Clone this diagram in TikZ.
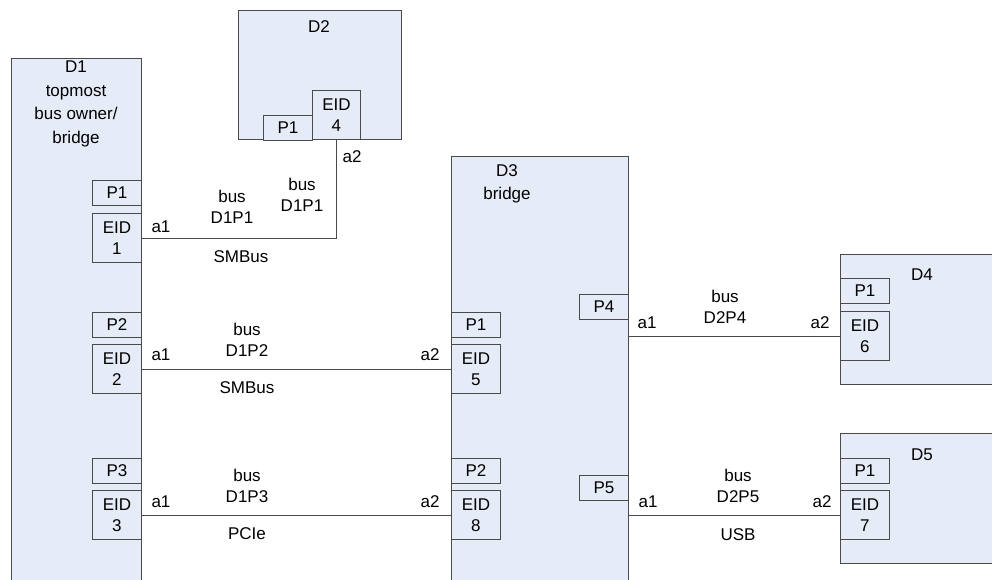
\documentclass[tikz,border=0pt]{standalone}
\usepackage{fontspec}
\setmainfont{Liberation Sans}
\definecolor{devfill}{HTML}{E6ECF7}
\definecolor{linec}{HTML}{4A4A4A}
\begin{document}
\begin{tikzpicture}[x=1pt,y=-1pt,
  font=\fontsize{17}{21}\selectfont,
  dev/.style={draw=linec, fill=devfill, line width=0.9pt, anchor=north west, inner sep=0pt},
  port/.style={draw=linec, fill=devfill, line width=0.9pt, anchor=north west, inner sep=0pt, minimum width=49pt, minimum height=25pt},
  eid/.style={draw=linec, fill=devfill, line width=0.9pt, anchor=north west, inner sep=0pt, minimum width=49pt, minimum height=49pt, align=center},
  wire/.style={draw=linec, line width=0.9pt},
  lbl/.style={inner sep=0pt, align=center}
]
\useasboundingbox (0,0) rectangle (992,580);
% devices
\node[dev, minimum width=130pt, minimum height=530pt] (d1) at (11,58) {};
\node[dev, minimum width=163pt, minimum height=129pt] (d2) at (238,10) {};
\node[dev, minimum width=177pt, minimum height=430pt] (d3) at (451,156) {};
\node[dev, minimum width=160pt, minimum height=130pt] (d4) at (840,254) {};
\node[dev, minimum width=160pt, minimum height=130pt] (d5) at (840,433) {};
% device labels
\node[lbl, font=\fontsize{17}{23.4}\selectfont] (t1) at (76,104) {D1\\topmost\\bus owner/\\bridge};
\node[lbl] (t2) at (319,27) {D2};
\node[lbl, font=\fontsize{17}{23}\selectfont] (t3) at (507,183.5) {D3\\bridge};
\node[lbl] (t4) at (922,275) {D4};
\node[lbl] (t5) at (922,455) {D5};
% D1 ports
\node[port] (d1p1) at (92,180) {P1};
\node[eid] (e1) at (92,213) {EID\\1};
\node[port] (d1p2) at (92,312) {P2};
\node[eid] (e2) at (92,344) {EID\\2};
\node[port] (d1p3) at (92,458) {P3};
\node[eid] (e3) at (92,490) {EID\\3};
% D2 ports
\node[port] (d2p1) at (263,115) {P1};
\node[eid, minimum width=48pt] (e4) at (312,90) {EID\\4};
% D3 ports
\node[port] (d3p1) at (451,312) {P1};
\node[eid] (e5) at (451,344) {EID\\5};
\node[port] (d3p2) at (451,458) {P2};
\node[eid] (e8) at (451,490) {EID\\8};
\node[port] (d3p4) at (579,294) {P4};
\node[port] (d3p5) at (579,475) {P5};
% D4, D5 ports
\node[port] (d4p1) at (840,278) {P1};
\node[eid] (e6) at (840,311) {EID\\6};
\node[port] (d5p1) at (840,458) {P1};
\node[eid] (e7) at (840,490) {EID\\7};
% connectors
\draw[wire] (e1.east) -| (e4.south);
\draw[wire] (e2.east) -- (e5.west);
\draw[wire] (e3.east) -- (e8.west);
\coordinate (c4) at (d3.east |- e6.west);
\coordinate (c5) at (d3.east |- e7.west);
\draw[wire] (c4) -- (e6.west);
\draw[wire] (c5) -- (e7.west);
% connector labels
\node[lbl] (a11) at (161,227) {a1};
\node[lbl] (b11) at (232,207) {bus\\D1P1};
\node[lbl] (b12) at (302,195) {bus\\D1P1};
\node[lbl] (a21) at (352,157) {a2};
\node[lbl] (s1) at (241,257) {SMBus};
\node[lbl] (a12) at (161,355) {a1};
\node[lbl] (b2) at (247,340) {bus\\D1P2};
\node[lbl] (a22) at (430,355) {a2};
\node[lbl] (s2) at (247,388) {SMBus};
\node[lbl] (a13) at (161,502) {a1};
\node[lbl] (b3) at (247,486) {bus\\D1P3};
\node[lbl] (a23) at (430,502) {a2};
\node[lbl] (s3) at (247,534) {PCIe};
\node[lbl] (a14) at (647,323) {a1};
\node[lbl] (b4) at (725,307) {bus\\D2P4};
\node[lbl] (a24) at (820,323) {a2};
\node[lbl] (a15) at (648,502) {a1};
\node[lbl] (b5) at (738,486) {bus\\D2P5};
\node[lbl] (a25) at (822,502) {a2};
\node[lbl] (s5) at (738,535) {USB};
\end{tikzpicture}
\end{document}
